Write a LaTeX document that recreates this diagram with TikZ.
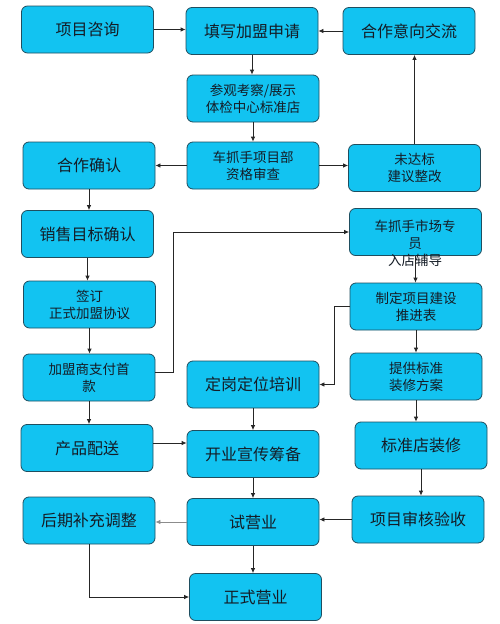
\documentclass[tikz,border=0pt]{standalone}
\usepackage{fontspec}
\setmainfont{Noto Sans CJK SC}
\usetikzlibrary{arrows.meta}
\definecolor{boxfill}{HTML}{12C3F1}
\definecolor{boxline}{HTML}{1F4E5F}
\definecolor{txtc}{HTML}{141C26}
\begin{document}
\begin{tikzpicture}[x=1pt,y=-1pt,
  box/.style={draw=boxline, fill=boxfill, line width=0.8pt, rounded corners=6pt,
    minimum width=132pt, minimum height=47pt, inner sep=0pt, align=center,
    text=txtc, font=\fontsize{16}{19}\selectfont},
  sbox/.style={box, font=\fontsize{13.5}{17}\selectfont},
  txt/.style={inner sep=0pt, align=center, text=txtc, font=\fontsize{13.5}{17}\selectfont},
  arr/.style={draw=black!85, line width=0.8pt, -{Latex[length=5pt,width=4.5pt]}},
  garr/.style={arr, draw=black!45}]
\useasboundingbox (0,0) rectangle (500,624);
\fill[white] (0,0) rectangle (500,624);
\node[box] (a) at (87.5,29.5) {项目咨询};
\node[box] (b) at (252,31) {填写加盟申请};
\node[box] (c) at (409,31) {合作意向交流};
\node[sbox] (d) at (253,98.5) {参观考察/展示\\体检中心标准店};
\node[box] (e) at (89,165.5) {合作确认};
\node[sbox] (f) at (253,165.5) {车抓手项目部\\资格审查};
\node[sbox] (g) at (414.5,168) {未达标\\建议整改};
\node[box] (h) at (87.5,234) {销售目标确认};
\node[box] (i) at (415.5,232) {};
\node[sbox] (j) at (89.5,304.5) {签订\\正式加盟协议};
\node[sbox] (k) at (416,306.5) {制定项目建设\\推进表};
\node[sbox] (l) at (89,377.5) {加盟商支付首\\款};
\node[box] (m) at (253,384.5) {定岗定位培训};
\node[sbox] (n) at (416,376.5) {提供标准\\装修方案};
\node[box] (o) at (87,448) {产品配送};
\node[box] (p) at (253,454) {开业宣传筹备};
\node[box] (q) at (421,445.5) {标准店装修};
\node[box] (r) at (89,520.5) {后期补充调整};
\node[box] (s) at (253,522) {试营业};
\node[box] (t) at (418,519.5) {项目审核验收};
\node[box] (u) at (255.5,597) {正式营业};
% connectors
\draw[arr] (a.east) -- (a.east -| b.west);
\draw[arr] (c.west) -- (c.west -| b.east);
\draw[arr] (b.south) -- (b.south |- d.north);
\draw[arr] (d.south) -- (d.south |- f.north);
\draw[arr] (f.west) -- (f.west -| e.east);
\draw[arr] (f.east) -- (f.east -| g.west);
\draw[arr] (g.north) -- (g.north |- c.south);
\draw[arr] (e.south) -- (e.south |- h.north);
\draw[arr] (h.south) -- (h.south |- j.north);
\draw[arr] (j.south) -- (j.south |- l.north);
\draw[arr] ([yshift=5pt]l.east) -- ++(18,0) |- (i.west);
\draw[arr] (l.south) -- (l.south |- o.north);
\draw[arr] (i.south) -- (i.south |- k.north);
\draw[arr] (k.west) -- ++(-15,0) |- (m.east);
\draw[arr] (k.south) -- (k.south |- n.north);
\draw[arr] (n.south) -- (n.south |- q.north);
\draw[arr] (m.south) -- (m.south |- p.north);
\draw[arr] ([yshift=5pt]o.east) -- ([yshift=5pt]o.east -| p.west);
\draw[arr] (q.south) -- (q.south |- t.north);
\draw[arr] (p.south) -- (p.south |- s.north);
\draw[arr] (t.west) -- (t.west -| s.east);
\draw[garr] (s.west) -- (s.west -| r.east);
\draw[arr] (s.south) -- (s.south |- u.north);
\draw[arr] (r.south) |- (u.west);
\node[txt] (itxt) at (415,243) {车抓手市场专\\员\\入店辅导};
\end{tikzpicture}
\end{document}
